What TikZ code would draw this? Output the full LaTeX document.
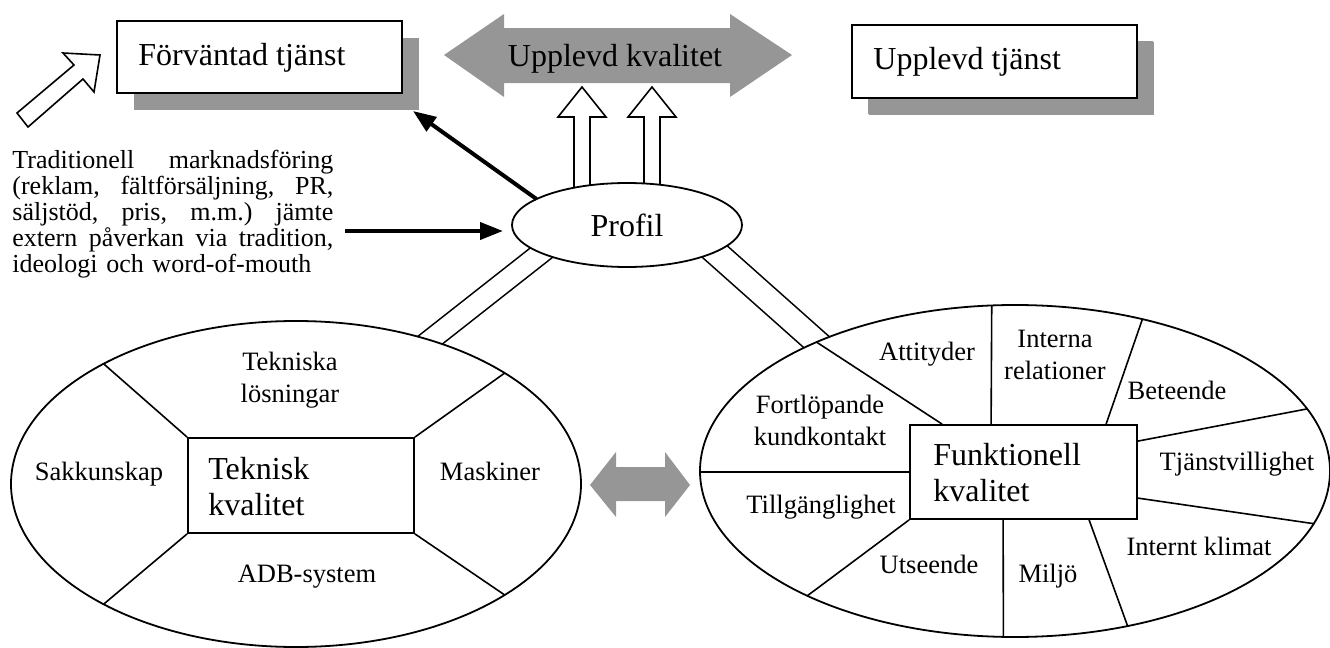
\documentclass[tikz,border=0pt]{standalone}
\usepackage{fontspec}
\setmainfont{Liberation Serif}
\usetikzlibrary{arrows.meta,shapes.geometric,shadows,backgrounds,calc}
\definecolor{shadegray}{RGB}{150,150,150}

\tikzset{
  wheel/.style={ellipse, draw, line width=0.9pt, fill=white, inner sep=0pt, outer sep=0pt},
  core/.style={rectangle, draw, line width=0.9pt, fill=white, inner sep=0pt},
  topbox/.style={rectangle, draw, line width=1pt, fill=white, inner sep=0pt,
    minimum width=142.5pt, minimum height=36pt,
    drop shadow={shadow xshift=8.5pt, shadow yshift=-8.5pt, fill=shadegray, opacity=1}},
  divider/.style={line width=0.8pt},
  lbl/.style={font=\fontsize{13.25}{16}\selectfont, inner sep=0pt, anchor=base, align=center},
  biglbl/.style={font=\fontsize{16}{17.75}\selectfont, inner sep=0pt, anchor=base west, align=left},
  blackarrow/.style={line width=2pt, -{Triangle[length=11.5pt,width=8.5pt]}},
  hollow/.style={draw, line width=0.8pt, fill=white, line join=miter},
  link/.style={double, line width=0.8pt, shorten <=-6pt, shorten >=-6pt},
}
% one fully justified line of the marketing text
\newcommand\fullline[1]{\makebox[160.5pt][l]{#1}}

\begin{document}
\begin{tikzpicture}[x=0.5pt, y=-0.5pt]
\useasboundingbox (0,0) rectangle (1330,648);

% --- top row: expected and experienced service ---
\node[topbox] (fv) at (259.5,57) {};
\node[biglbl] (fvt) at (138,65) {Förväntad tjänst};
\node[topbox, minimum height=36.5pt, drop shadow={shadow xshift=8pt, shadow yshift=-8pt, fill=shadegray, opacity=1}] (ut) at (994.5,61.5) {};
\node[biglbl] (utt) at (873,69) {Upplevd tjänst};

% perceived quality: grey double arrow
\fill[shadegray] (444,55) -- (504,14) -- (504,28) -- (730,28) -- (730,14) -- (792,55)
  -- (730,97) -- (730,83) -- (504,83) -- (504,97) -- cycle;
\node[biglbl, anchor=base] (uk) at (615,66) {Upplevd kvalitet};

% hollow arrow pointing at the expected service
\draw[hollow] (17,113) -- (74,65) -- (63,53) -- (100,55) -- (94,92) -- (83,79) -- (28,127) -- cycle;

% --- image (profile) ---
\node[wheel, minimum width=115pt, minimum height=42pt, font=\fontsize{16}{18}\selectfont] (profil) at (627,225) {Profil};

% --- technical quality wheel ---
\node[wheel, minimum width=285pt, minimum height=163pt] (le) at (296,484) {};
\node[core, minimum width=113pt, minimum height=47.5pt] (tk) at (301,485.5) {};
\draw[divider] (tk.north west) -- (le.148.7);
\draw[divider] (tk.south west) -- (le.212.6);
\draw[divider] (tk.north east) -- (le.28.5);
\draw[divider] (tk.south east) -- (le.332);
\node[biglbl] (tkt) at (208,515) {Teknisk\\kvalitet};
\node[lbl] (l1) at (290,402) {Tekniska\\lösningar};
\node[lbl] (l2) at (99,480) {Sakkunskap};
\node[lbl] (l3) at (490,480) {Maskiner};
\node[lbl] (l4) at (307,582) {ADB-system};

% --- functional quality wheel ---
\node[wheel, minimum width=315pt, minimum height=166pt] (re) at (1015,471) {};
\node[core, minimum width=113.5pt, minimum height=47pt] (fk) at (1023.5,472) {};
\draw[divider] ($(fk.north west)+(33,0)$) -- (re.147.8);
\draw[divider] ($(fk.north west)+(82,0)$) -- (re.98.6);
\draw[divider] ($(fk.north west)+(197,0)$) -- (re.50.8);
\draw[divider] ($(fk.north east)+(0,17)$) -- (re.12.3);
\draw[divider] ($(fk.north east)+(0,74)$) -- (re.350);
\draw[divider] ($(fk.south west)+(180,0)$) -- (re.306.4);
\draw[divider] ($(fk.south west)+(94,0)$) -- (re.266.2);
\draw[divider] (fk.south west) -- (re.211.2);
\draw[divider] (fk.west) -- (fk.west -| re.west);
\node[biglbl] (fkt) at (933,501) {Funktionell\\kvalitet};
\node[lbl] (r1) at (927,360) {Attityder};
\node[lbl] (r2) at (1055,379) {Interna\\relationer};
\node[lbl] (r3) at (1177,399) {Beteende};
\node[lbl] (r4) at (1237,470) {Tjänstvillighet};
\node[lbl] (r5) at (1199,555) {Internt klimat};
\node[lbl] (r6) at (1048,582) {Miljö};
\node[lbl] (r7) at (929,573) {Utseende};
\node[lbl] (r8) at (821,513) {Tillgänglighet};
\node[lbl] (r9) at (820,445) {Fortlöpande\\kundkontakt};

% grey double arrow between the two wheels
\fill[shadegray] (590,485) -- (616,452) -- (616,467) -- (665,467) -- (665,452) -- (690,485)
  -- (665,517) -- (665,501) -- (616,501) -- (616,517) -- cycle;

% --- marketing text and arrows ---
\node[anchor=base west, text width=160.5pt, inner sep=0pt, align=left,
      font=\fontsize{13}{13.1}\selectfont] (mk) at (12,168) {%
  \fullline{Traditionell\hfill marknadsföring}\\
  \fullline{(reklam,\hfill fältförsäljning,\hfill PR,}\\
  \fullline{säljstöd,\hfill pris,\hfill m.m.)\hfill jämte}\\
  \fullline{extern\hfill påverkan\hfill via\hfill tradition,}\\
  ideologi och word-of-mouth};
\coordinate (mkout) at (345,231);
\draw[blackarrow, shorten >=4.5pt] (mkout) -- (mkout -| profil.west);
\draw[blackarrow] (profil.164.8) -- ([shift={(5pt,-8.5pt)}]fv.south east);

% --- links drawn behind the shapes ---
\begin{pgfonlayer}{background}
  \draw[link, double distance=9.7pt] (profil.198.8) -- (le.47.9);
  \draw[link, double distance=11.7pt] (profil.343.9) -- (re.147.8);
  \draw[hollow] (574,200) -- (574,117) -- (558,117) -- (582,87) -- (606,117) -- (590,117) -- (590,200);
  \draw[hollow] (644,200) -- (644,117) -- (628,117) -- (652,87) -- (676,117) -- (660,117) -- (660,200);
\end{pgfonlayer}
\end{tikzpicture}
\end{document}
